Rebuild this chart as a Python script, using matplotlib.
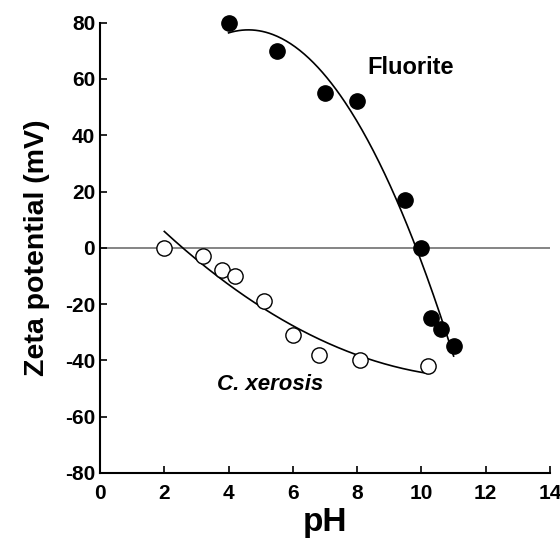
import numpy as np
import matplotlib.pyplot as plt

plt.rcParams.update({"font.family": "Liberation Sans", "font.weight": "bold",
                     "axes.unicode_minus": False})

# Fluorite (filled circles)
ph_fluorite = [4.0, 5.5, 7.0, 8.0, 9.5, 10.0, 10.3, 10.6, 11.0]
zeta_fluorite = [80, 70, 55, 52, 17, 0, -25, -29, -35]

# C. xerosis (open circles)
ph_xerosis = [2.0, 3.2, 3.8, 4.2, 5.1, 6.0, 6.8, 8.1, 10.2]
zeta_xerosis = [0, -3, -8, -10, -19, -31, -38, -40, -42]

fig = plt.figure(figsize=(5.6, 5.4), dpi=100)
ax = fig.add_axes([0.1786, 0.1241, 0.8036, 0.8339])

# trend lines fitted to the data
xf = np.linspace(min(ph_fluorite), max(ph_fluorite), 200)
ax.plot(xf, np.polyval(np.polyfit(ph_fluorite, zeta_fluorite, 2), xf), color="black", lw=1.2)
xx = np.linspace(min(ph_xerosis), max(ph_xerosis), 200)
ax.plot(xx, np.polyval(np.polyfit(ph_xerosis, zeta_xerosis, 2), xx), color="black", lw=1.2)

ax.axhline(0, color="#707070", lw=1.2, zorder=1)

ax.plot(ph_fluorite, zeta_fluorite, "o", ms=11, mfc="black", mec="black", zorder=3, clip_on=False)
ax.plot(ph_xerosis, zeta_xerosis, "o", ms=11, mfc="white", mec="black", mew=1, zorder=3, clip_on=False)

ax.text(9.65, 64, "Fluorite", fontsize=17, fontweight="bold", ha="center", va="center")
ax.text(5.29, -48.6, "C. xerosis", fontsize=16, fontweight="bold", style="italic", ha="center", va="center")

ax.set_xlim(0, 14)
ax.set_ylim(-80, 80)
ax.set_xticks(range(0, 15, 2))
ax.set_yticks(range(-80, 81, 20))
ax.tick_params(direction="in", length=5, width=1.2, labelsize=15)
ax.tick_params(axis="x", pad=8)
for s in ["top", "right"]:
    ax.spines[s].set_visible(False)
for s in ["left", "bottom"]:
    ax.spines[s].set_linewidth(1.5)
ax.set_xlabel("pH", fontsize=24, fontweight="bold", labelpad=3)
ax.set_ylabel("Zeta potential (mV)", fontsize=20.5, fontweight="bold", labelpad=11)

plt.savefig("out.png")
